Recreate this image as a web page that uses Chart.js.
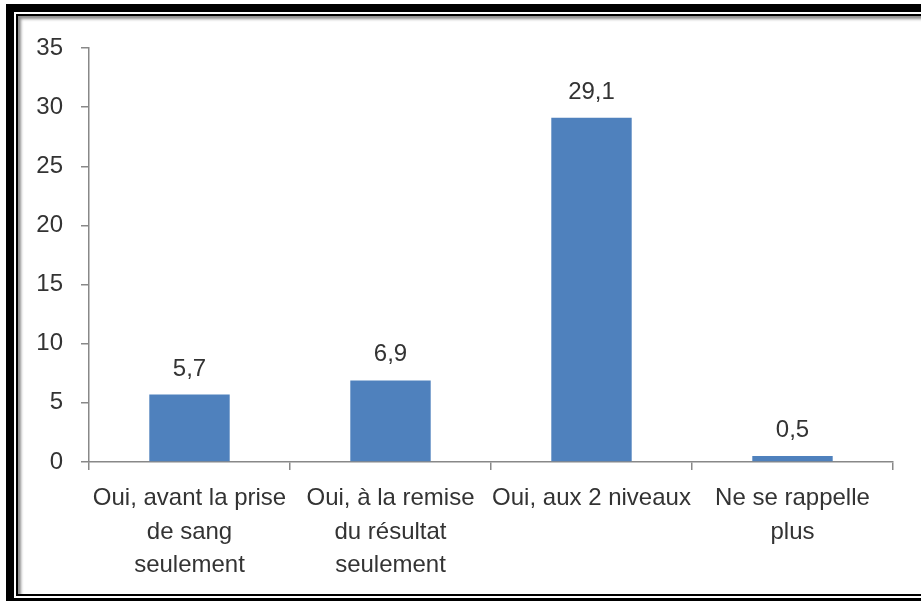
<!DOCTYPE html>
<html>
<head>
<meta charset="utf-8">
<script src="https://cdn.jsdelivr.net/npm/chart.js@4"></script>
<style>
  html, body { margin: 0; padding: 0; background: #fff; overflow: hidden; }
  body { width: 921px; height: 601px; position: relative; }
  #frame {
    position: absolute; left: 6px; top: 4px;
    width: 1000px; height: 586px;
    border: 8px solid #000;
  }
  #inner {
    position: absolute; left: 2px; top: 2px;
    width: 1000px; height: 578px;
    border: 2px solid #000;
    box-shadow: inset 3px 3px 3px rgba(0,0,0,0.45);
  }
  #chart { position: absolute; left: 0; top: 0; }
</style>
</head>
<body>
<div id="frame"><div id="inner"></div></div>
<canvas id="chart" width="921" height="601"></canvas>
<script>
// data
const categories = [
  ["Oui, avant la prise", "de sang", "seulement"],
  ["Oui, à la remise", "du résultat", "seulement"],
  "Oui, aux 2 niveaux",
  ["Ne se rappelle", "plus"]
];
const percentages = [5.7, 6.9, 29.1, 0.5];
const yTicks = [0, 5, 10, 15, 20, 25, 30, 35];

const textColor = '#333333';
const axisColor = '#888888';
const fontFamily = '"Liberation Sans", Arial, sans-serif';

// draws the value above each bar (comma decimal like the original)
const valueLabels = {
  id: 'valueLabels',
  afterDatasetsDraw(chart) {
    const ctx = chart.ctx;
    const meta = chart.getDatasetMeta(0);
    ctx.save();
    ctx.fillStyle = textColor;
    ctx.font = '24px ' + fontFamily;
    ctx.textAlign = 'center';
    ctx.textBaseline = 'alphabetic';
    meta.data.forEach((bar, i) => {
      const txt = percentages[i].toFixed(1).replace('.', ',');
      ctx.fillText(txt, bar.x, bar.y - 19);
    });
    ctx.restore();
  }
};

new Chart(document.getElementById('chart'), {
  type: 'bar',
  data: {
    labels: categories,
    datasets: [{
      data: percentages,
      backgroundColor: '#4F81BD',
      borderWidth: 0,
      barPercentage: 0.4,
      categoryPercentage: 1.0
    }]
  },
  options: {
    responsive: false,
    animation: false,
    layout: { padding: { top: 48, right: 28, bottom: 0, left: 0 } },
    plugins: {
      legend: { display: false },
      tooltip: { enabled: false }
    },
    scales: {
      x: {
        afterFit: (s) => { s.height = 139; },
        border: { color: axisColor, width: 1.5 },
        grid: {
          offset: true,
          drawOnChartArea: false,
          color: axisColor,
          lineWidth: 1.5,
          tickLength: 8
        },
        ticks: {
          color: textColor,
          font: { family: fontFamily, size: 24, lineHeight: 1.39 },
          padding: 12,
          maxRotation: 0,
          minRotation: 0,
          autoSkip: false
        }
      },
      y: {
        min: 0,
        max: 35,
        afterFit: (s) => { s.width = 89; },
        afterBuildTicks: (s) => { s.ticks = yTicks.map(v => ({ value: v })); },
        border: { color: axisColor, width: 1.5 },
        grid: {
          drawOnChartArea: false,
          color: axisColor,
          lineWidth: 1.5,
          tickLength: 8
        },
        ticks: {
          color: textColor,
          font: { family: fontFamily, size: 24 },
          padding: 18
        }
      }
    }
  },
  plugins: [valueLabels]
});
</script>
</body>
</html>
